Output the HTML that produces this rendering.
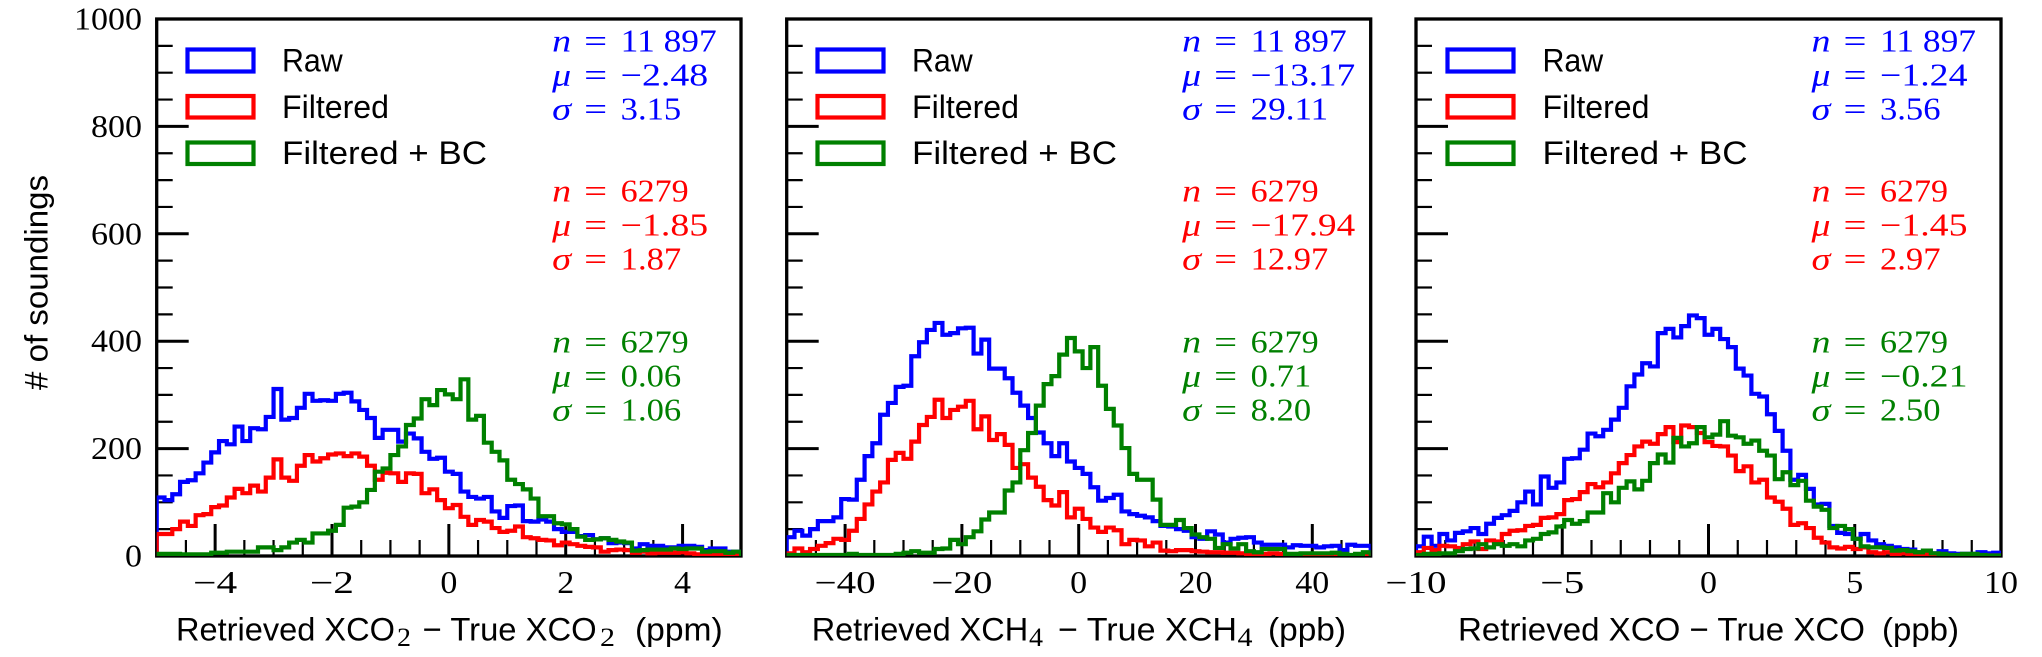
<!DOCTYPE html>
<html lang="en">
<head>
<meta charset="utf-8">
<title>Retrieved minus true histograms</title>
<style>
html,body{margin:0;padding:0;background:#fff;}
svg{display:block;}
.sans{font-family:"Liberation Sans",sans-serif;font-size:32.5px;fill:#000;}
.serif{font-family:"Liberation Serif",serif;font-size:31.5px;fill:#000;}
.sub{font-family:"Liberation Serif",serif;font-size:26px;fill:#000;}
</style>
</head>
<body>
<svg id="figure" xmlns="http://www.w3.org/2000/svg" width="2042" height="657" viewBox="0 0 2042 657">
  <rect x="0" y="0" width="2042" height="657" fill="#fff"/>
  <defs>
    <clipPath id="clip-0"><rect x="156.7" y="19" width="584.3" height="537"/></clipPath>
    <clipPath id="clip-1"><rect x="786.7" y="19" width="584" height="537"/></clipPath>
    <clipPath id="clip-2"><rect x="1416" y="19" width="585" height="537"/></clipPath>
  </defs>

  <g id="panel-0"></g>
  <g id="panel-1"></g>
  <g id="panel-2"></g>

  <text class="sans" transform="translate(47.7,390) rotate(-90)" textLength="215" lengthAdjust="spacingAndGlyphs"># of soundings</text>

  <g>
    <text class="sans" x="176" y="640.7" textLength="219" lengthAdjust="spacingAndGlyphs">Retrieved XCO</text>
    <text class="sub" x="397" y="646" textLength="14" lengthAdjust="spacingAndGlyphs">2</text>
    <text class="sans" x="422.7" y="640.7" textLength="174" lengthAdjust="spacingAndGlyphs">− True XCO</text>
    <text class="sub" x="600" y="646" textLength="15" lengthAdjust="spacingAndGlyphs">2</text>
    <text class="sans" x="635" y="640.7" textLength="87.7" lengthAdjust="spacingAndGlyphs">(ppm)</text>
  </g>
  <g>
    <text class="sans" x="811.7" y="640.7" textLength="216.5" lengthAdjust="spacingAndGlyphs">Retrieved XCH</text>
    <text class="sub" x="1029" y="646" textLength="14" lengthAdjust="spacingAndGlyphs">4</text>
    <text class="sans" x="1058" y="640.7" textLength="179" lengthAdjust="spacingAndGlyphs">− True XCH</text>
    <text class="sub" x="1237.5" y="646" textLength="15" lengthAdjust="spacingAndGlyphs">4</text>
    <text class="sans" x="1268" y="640.7" textLength="78" lengthAdjust="spacingAndGlyphs">(ppb)</text>
  </g>
  <g>
    <text class="sans" x="1458" y="640.7" textLength="407" lengthAdjust="spacingAndGlyphs">Retrieved XCO − True XCO</text>
    <text class="sans" x="1882" y="640.7" textLength="77" lengthAdjust="spacingAndGlyphs">(ppb)</text>
  </g>

  <g>
    <rect x="187.5" y="49.5" width="66" height="22" fill="none" stroke="#0000ff" stroke-width="4.2"/>
    <rect x="187.5" y="96" width="66" height="21.5" fill="none" stroke="#ff0000" stroke-width="4.2"/>
    <rect x="187.5" y="142.5" width="66" height="21.5" fill="none" stroke="#008000" stroke-width="4.2"/>
    <text class="sans" x="282" y="71.6" textLength="60.7" lengthAdjust="spacingAndGlyphs">Raw</text>
    <text class="sans" x="282" y="118" textLength="107" lengthAdjust="spacingAndGlyphs">Filtered</text>
    <text class="sans" x="282" y="164" textLength="205" lengthAdjust="spacingAndGlyphs">Filtered + BC</text>
  </g>
  <g>
    <rect x="817.5" y="49.5" width="66" height="22" fill="none" stroke="#0000ff" stroke-width="4.2"/>
    <rect x="817.5" y="96" width="66" height="21.5" fill="none" stroke="#ff0000" stroke-width="4.2"/>
    <rect x="817.5" y="142.5" width="66" height="21.5" fill="none" stroke="#008000" stroke-width="4.2"/>
    <text class="sans" x="912" y="71.6" textLength="60.7" lengthAdjust="spacingAndGlyphs">Raw</text>
    <text class="sans" x="912" y="118" textLength="107" lengthAdjust="spacingAndGlyphs">Filtered</text>
    <text class="sans" x="912" y="164" textLength="205" lengthAdjust="spacingAndGlyphs">Filtered + BC</text>
  </g>
  <g>
    <rect x="1447.5" y="49.5" width="66" height="22" fill="none" stroke="#0000ff" stroke-width="4.2"/>
    <rect x="1447.5" y="96" width="66" height="21.5" fill="none" stroke="#ff0000" stroke-width="4.2"/>
    <rect x="1447.5" y="142.5" width="66" height="21.5" fill="none" stroke="#008000" stroke-width="4.2"/>
    <text class="sans" x="1542.5" y="71.6" textLength="60.7" lengthAdjust="spacingAndGlyphs">Raw</text>
    <text class="sans" x="1542.5" y="118" textLength="107" lengthAdjust="spacingAndGlyphs">Filtered</text>
    <text class="sans" x="1542.5" y="164" textLength="205" lengthAdjust="spacingAndGlyphs">Filtered + BC</text>
  </g>
</svg>

<script>
// ---- data ----
const xco2Raw = [109,104,115,138,141,154,174,193,214,208,241,214,238,236,259,311,254,257,276,302,289,290,289,302,304,288,272,257,220,235,235,213,228,219,194,181,183,157,153,120,110,107,110,83,71,93,94,65,64,68,64,50,45,45,37,39,31,33,24,25,24,14,22,19,19,16,16,19,19,17,11,14,14,8,8];
const xco2Filtered = [41,41,50,64,56,76,78,91,94,109,125,117,131,120,146,180,146,140,168,188,176,182,189,191,186,191,185,168,142,155,154,138,154,153,117,124,104,89,95,73,58,67,64,52,45,47,55,35,33,30,29,20,25,22,19,17,16,8,11,12,11,6,8,5,6,6,6,7,5,3,3,3,3,3,3];
const xco2Corrected = [4,4,4,3,3,3,3,6,6,8,8,8,8,16,16,11,16,25,30,25,42,42,47,58,90,92,100,123,157,163,188,204,244,256,292,281,309,301,292,329,254,261,211,194,178,142,134,124,107,74,74,61,59,50,36,30,31,33,30,27,25,10,11,12,12,12,14,13,14,14,8,9,9,6,8];

const xch4Raw = [35,47,38,50,65,65,72,106,105,142,186,210,263,285,315,317,372,398,421,434,412,415,424,425,377,403,349,349,331,304,280,257,230,210,186,210,176,164,153,128,103,108,114,83,78,75,72,65,56,55,50,47,35,32,46,40,25,32,34,35,25,21,21,21,16,20,19,19,16,18,19,11,21,19,19];
const xch4Filtered = [5,14,7,13,19,24,32,30,47,69,96,120,137,179,192,181,213,244,259,291,257,272,278,289,236,260,216,227,207,164,171,146,129,104,94,119,72,88,69,53,45,53,48,22,30,29,18,25,10,9,11,11,9,8,7,7,6,6,5,4,2,4,5,4,1,1,1,1,1,1,1,1,1,1,2];
const xch4Corrected = [2,2,2,2,2,2,2,2,4,2,2,2,2,2,4,6,9,6,6,13,14,30,22,35,46,68,81,81,122,137,197,229,280,320,335,375,406,381,350,389,317,274,243,201,153,142,142,105,58,58,67,52,40,35,32,15,22,14,22,9,7,13,13,13,4,4,5,5,5,5,6,4,2,4,7];

const xcoRaw = [18,36,19,41,29,43,46,52,41,60,71,76,84,100,120,96,148,127,137,181,182,198,228,223,235,254,276,316,338,359,353,415,423,407,428,448,443,412,423,404,389,349,336,302,297,264,233,196,142,151,125,96,97,56,43,41,32,41,29,22,19,16,13,12,7,10,5,9,5,4,4,4,7,5,6];
const xcoFiltered = [7,15,11,19,18,15,22,27,13,29,27,41,47,48,56,58,71,72,78,104,106,119,134,128,137,154,173,188,204,213,209,227,240,212,243,240,229,212,205,204,187,158,167,137,142,109,101,88,58,61,52,34,25,16,14,17,13,16,7,5,7,4,5,4,2,4,1,1,1,1,1,1,1,1,1];
const xcoCorrected = [2,4,4,5,5,9,13,14,22,16,22,19,22,18,29,32,41,44,55,67,60,65,81,81,117,100,127,139,124,140,173,189,174,220,204,210,240,221,226,251,224,221,209,215,196,187,143,156,132,140,103,92,86,52,56,50,32,18,16,16,15,10,11,9,7,10,5,4,2,2,4,4,2,1,1];

const yTickValues = [0,200,400,600,800,1000];
const yTickLabels = ['0','200','400','600','800','1000'];
const xco2TickValues = [-4,-2,0,2,4];
const xco2TickLabels = ['−4','−2','0','2','4'];
const xch4TickValues = [-40,-20,0,20,40];
const xch4TickLabels = ['−40','−20','0','20','40'];
const xcoTickValues = [-10,-5,0,5,10];
const xcoTickLabels = ['−10','−5','0','5','10'];

const xco2Counts = ['11 897','6279','6279'];
const xco2Means = ['−2.48','−1.85','0.06'];
const xco2Sigmas = ['3.15','1.87','1.06'];
const xch4Counts = ['11 897','6279','6279'];
const xch4Means = ['−13.17','−17.94','0.71'];
const xch4Sigmas = ['29.11','12.97','8.20'];
const xcoCounts = ['11 897','6279','6279'];
const xcoMeans = ['−1.24','−1.45','−0.21'];
const xcoSigmas = ['3.56','2.97','2.50'];

// ---- layout ----
const NS = 'http://www.w3.org/2000/svg';
const yBottom = 556, yTop = 19, yMaxValue = 1000;
const colors = ['#0000ff', '#ff0000', '#008000'];
const seriesKeys = ['raw', 'filtered', 'filtered-bc'];
const statBaselines = [[51.7, 85.7, 119.5], [201.7, 235.7, 269.7], [352.7, 386.7, 420.7]];
const panels = [
  {key:'xco2', left:156.7, right:741, min:-5, max:5, minor:0.5, ticks:xco2TickValues, labels:xco2TickLabels, series:[xco2Raw,xco2Filtered,xco2Corrected], stats:[xco2Counts,xco2Means,xco2Sigmas]},
  {key:'xch4', left:786.7, right:1370.7, min:-50, max:50, minor:5, ticks:xch4TickValues, labels:xch4TickLabels, series:[xch4Raw,xch4Filtered,xch4Corrected], stats:[xch4Counts,xch4Means,xch4Sigmas]},
  {key:'xco', left:1416, right:2001, min:-10, max:10, minor:1, ticks:xcoTickValues, labels:xcoTickLabels, series:[xcoRaw,xcoFiltered,xcoCorrected], stats:[xcoCounts,xcoMeans,xcoSigmas]}
];

function yScale(v){ return yBottom - (v / yMaxValue) * (yBottom - yTop); }
function xScaleFor(p){ return v => p.left + (v - p.min) / (p.max - p.min) * (p.right - p.left); }
function textWidth(s){
  let w = 0;
  for (const c of s) w += c === '−' ? 27 : c === '.' ? 9.5 : c === ' ' ? 11 : 17;
  return w;
}
function make(tag, attrs){
  const e = document.createElementNS(NS, tag);
  for (const k in attrs) e.setAttribute(k, attrs[k]);
  return e;
}
function makeText(str, x, y, width, color){
  const t = make('text', {class:'serif', x:x, y:y, fill:color || '#000', style:'fill:' + (color || '#000')});
  if (width) { t.setAttribute('textLength', width); t.setAttribute('lengthAdjust', 'spacingAndGlyphs'); }
  t.textContent = str;
  return t;
}

panels.forEach((p, pi) => {
  const g = document.getElementById('panel-' + pi);
  const x = xScaleFor(p);

  // minor and major y ticks
  for (let v = 0; v <= yMaxValue; v += 50) {
    const major = yTickValues.includes(v);
    const line = make('line', {x1:p.left, x2:p.left + (major ? 32 : 16), y1:yScale(v), y2:yScale(v), stroke:'#000', 'stroke-width': major ? 3 : 2.2});
    
    
    g.appendChild(line);
  }

  // minor x ticks
  const minorCount = Math.round((p.max - p.min) / p.minor);
  for (let i = 0; i <= minorCount; i++) {
    const v = p.min + i * p.minor;
    if (p.ticks.includes(v)) continue;
    const line = make('line', {x1:x(v), x2:x(v), y1:yBottom, y2:yBottom - 16, stroke:'#000', 'stroke-width':2.2});
    
    
    g.appendChild(line);
  }

  // major x ticks with labels
  p.ticks.forEach((v, i) => {
    const line = make('line', {x1:x(v), x2:x(v), y1:yBottom, y2:yBottom - 32, stroke:'#000', 'stroke-width':3});
    
    
    g.appendChild(line);
    const w = textWidth(p.labels[i]);
    const label = makeText(p.labels[i], x(v) - w / 2, 593, w);
    
    
    g.appendChild(label);
  });

  // y tick labels on first panel only
  if (pi === 0) {
    yTickValues.forEach((v, i) => {
      const w = textWidth(yTickLabels[i]);
      const label = makeText(yTickLabels[i], 142 - w, yScale(v) + 10.5, w);
      
      
      g.appendChild(label);
    });
  }

  // axes frame
  const frame = make('rect', {x:p.left, y:yTop, width:p.right - p.left, height:yBottom - yTop, fill:'none', stroke:'#000', 'stroke-width':3.3});
  
  
  g.appendChild(frame);

  // histogram outlines
  p.series.forEach((values, si) => {
    const n = values.length;
    const edge = i => x(p.min + (p.max - p.min) * i / n);
    let d = 'M' + edge(0).toFixed(2) + ' ' + yScale(0).toFixed(2);
    values.forEach((v, i) => {
      d += 'L' + edge(i).toFixed(2) + ' ' + yScale(v).toFixed(2) + 'L' + edge(i + 1).toFixed(2) + ' ' + yScale(v).toFixed(2);
    });
    d += 'L' + edge(n).toFixed(2) + ' ' + yScale(0).toFixed(2);
    const path = make('path', {d:d, fill:'none', stroke:colors[si], 'stroke-width':4.2, 'stroke-linejoin':'miter', 'clip-path':'url(#clip-' + pi + ')'});
    
    
    g.appendChild(path);
  });

  // statistics annotations
  const symbols = ['n', 'μ', 'σ'];
  for (let si = 0; si < 3; si++) {
    const stat = make('g', {});
    
    
    for (let row = 0; row < 3; row++) {
      const by = statBaselines[si][row];
      const sym = makeText(symbols[row], p.left + 395.5, by, 19, colors[si]);
      sym.setAttribute('font-style', 'italic');
      
      
      stat.appendChild(sym);
      const eq = makeText('=', p.left + 427.5, by, 23, colors[si]);
      
      
      stat.appendChild(eq);
      const str = p.stats[row][si];
      const val = makeText(str, p.left + 464, by, textWidth(str), colors[si]);
      
      
      stat.appendChild(val);
    }
    g.appendChild(stat);
  }
});
</script>
</body>
</html>
